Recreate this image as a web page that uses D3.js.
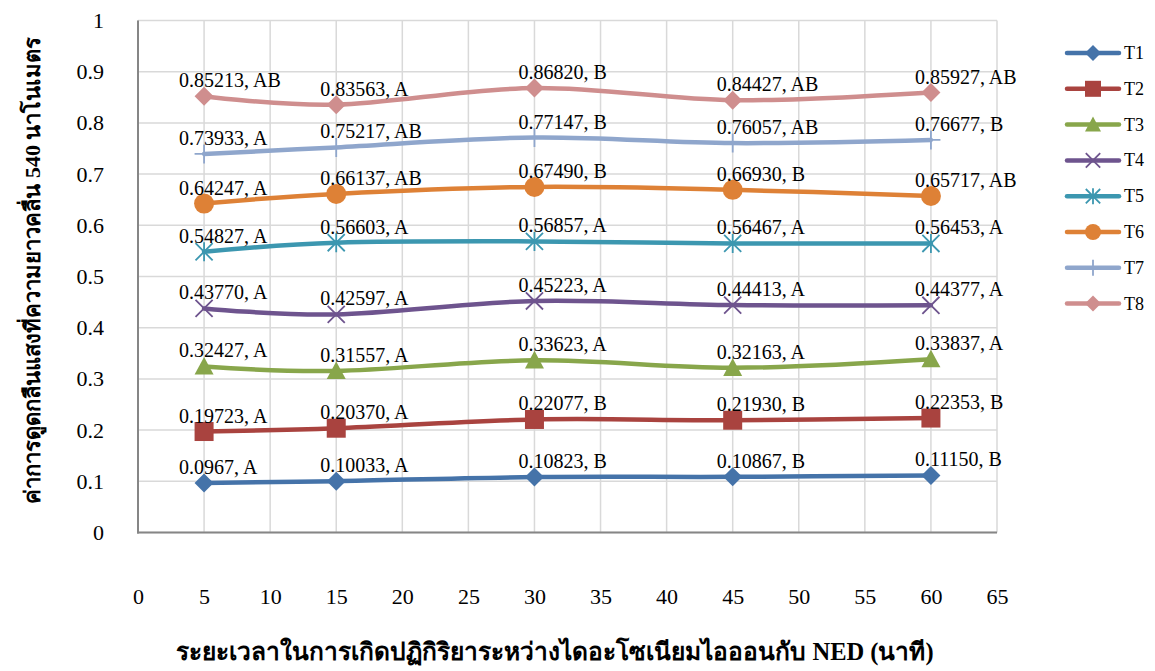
<!DOCTYPE html>
<html>
<head>
<meta charset="utf-8">
<script src="https://cdn.jsdelivr.net/npm/d3@7"></script>
<style>
  html, body { margin: 0; padding: 0; background: #fff; }
  svg { display: block; }
  text { font-family: "Liberation Serif", "Times New Roman", serif; fill: #000; }
</style>
</head>
<body>
<svg id="chart" width="1155" height="671"></svg>
<script>
// Reaction times (minutes) at which absorbance was measured
const times = [5, 15, 30, 45, 60];

// Mean absorbance at 540 nm per treatment, as reported (text keeps the printed digits)
const t1 = ["0.0967", "0.10033", "0.10823", "0.10867", "0.11150"];
const t2 = ["0.19723", "0.20370", "0.22077", "0.21930", "0.22353"];
const t3 = ["0.32427", "0.31557", "0.33623", "0.32163", "0.33837"];
const t4 = ["0.43770", "0.42597", "0.45223", "0.44413", "0.44377"];
const t5 = ["0.54827", "0.56603", "0.56857", "0.56467", "0.56453"];
const t6 = ["0.64247", "0.66137", "0.67490", "0.66930", "0.65717"];
const t7 = ["0.73933", "0.75217", "0.77147", "0.76057", "0.76677"];
const t8 = ["0.85213", "0.83563", "0.86820", "0.84427", "0.85927"];

// Statistical grouping letters for each mean
const g1 = ["A", "A", "B", "B", "B"];
const g2 = ["A", "A", "B", "B", "B"];
const g3 = ["A", "A", "A", "A", "A"];
const g4 = ["A", "A", "A", "A", "A"];
const g5 = ["A", "A", "A", "A", "A"];
const g6 = ["A", "AB", "B", "B", "AB"];
const g7 = ["A", "AB", "B", "AB", "B"];
const g8 = ["AB", "A", "B", "AB", "AB"];

const seriesNames = ["T1", "T2", "T3", "T4", "T5", "T6", "T7", "T8"];

// Axis ticks
const xTicks = [0, 5, 10, 15, 20, 25, 30, 35, 40, 45, 50, 55, 60, 65];
const yTicks = [0, 0.1, 0.2, 0.3, 0.4, 0.5, 0.6, 0.7, 0.8, 0.9, 1];

const xTitle = "ระยะเวลาในการเกิดปฏิกิริยาระหว่างไดอะโซเนียมไอออนกับ NED (นาที)";
const yTitle = "ค่าการดูดกลืนแสงที่ความยาวคลื่น 540 นาโนเมตร";

// Styling per series: colour and marker shape
const colors = ["#4573A9", "#A9433F", "#88A64B", "#6E548E", "#3C97B0", "#DE8136", "#8FA6CC", "#CF8E8E"];
const markers = ["diamond", "square", "triangle", "cross", "star", "circle", "plus", "diamond"];

const valueSets = [t1, t2, t3, t4, t5, t6, t7, t8];
const groupSets = [g1, g2, g3, g4, g5, g6, g7, g8];

const series = seriesNames.map((name, i) => ({
  name,
  color: colors[i],
  marker: markers[i],
  points: times.map((t, j) => ({ t, text: valueSets[i][j], v: Number(valueSets[i][j]), g: groupSets[i][j] }))
}));

const svg = d3.select("#chart");
const plot = { left: 138, right: 997, top: 20.5, bottom: 532.5 };

const x = d3.scaleLinear().domain([0, 65]).range([plot.left, plot.right]);
const y = d3.scaleLinear().domain([0, 1]).range([plot.bottom, plot.top]);

// Gridlines
const grid = svg.append("g").attr("stroke", "#d9d9d9").attr("stroke-width", 1.5);
grid.selectAll("line.v").data(xTicks).join("line")
  .attr("x1", d => x(d)).attr("x2", d => x(d))
  .attr("y1", plot.top).attr("y2", plot.bottom);
grid.selectAll("line.h").data(yTicks).join("line")
  .attr("x1", plot.left).attr("x2", plot.right)
  .attr("y1", d => y(d)).attr("y2", d => y(d));

// Axes
const xAxis = d3.axisBottom(x).tickValues(xTicks).tickSize(0).tickPadding(56).tickFormat(d3.format("d"));
const gx = svg.append("g").attr("transform", `translate(0,${plot.bottom})`).call(xAxis);
gx.select(".domain").remove();
gx.selectAll("text").style("font-family", '"Liberation Serif", serif').style("font-size", "22px").attr("fill", "#000");

const yAxis = d3.axisLeft(y).tickValues(yTicks).tickSize(0).tickPadding(34).tickFormat(d => String(+d.toFixed(1)));
const gy = svg.append("g").attr("transform", `translate(${plot.left},0)`).call(yAxis);
gy.select(".domain").remove();
gy.selectAll("text").style("font-family", '"Liberation Serif", serif').style("font-size", "22px").attr("fill", "#000");

svg.append("line").attr("x1", plot.left).attr("x2", plot.left).attr("y1", plot.top).attr("y2", plot.bottom + 1)
  .attr("stroke", "#868686").attr("stroke-width", 2);
svg.append("line").attr("x1", plot.left - 1).attr("x2", plot.right).attr("y1", plot.bottom).attr("y2", plot.bottom)
  .attr("stroke", "#868686").attr("stroke-width", 2);

// Marker drawing
function drawMarker(sel, type, color, s) {
  const h = s / 2;
  if (type === "diamond") {
    sel.append("path").attr("d", `M0,${-h}L${h},0L0,${h}L${-h},0Z`).attr("fill", color);
  } else if (type === "square") {
    sel.append("rect").attr("x", -h).attr("y", -h).attr("width", s).attr("height", s).attr("fill", color);
  } else if (type === "triangle") {
    sel.append("path").attr("d", `M0,${-h}L${h},${h * 0.85}L${-h},${h * 0.85}Z`).attr("fill", color);
  } else if (type === "circle") {
    sel.append("circle").attr("r", h).attr("fill", color);
  } else if (type === "cross") {
    const k = h * 0.9;
    sel.append("path").attr("d", `M${-k},${-k}L${k},${k}M${-k},${k}L${k},${-k}`)
      .attr("stroke", color).attr("stroke-width", 1.8).attr("fill", "none");
  } else if (type === "star") {
    const k = h * 0.9;
    sel.append("path").attr("d", `M${-k},${-k}L${k},${k}M${-k},${k}L${k},${-k}M0,${-h}L0,${h}`)
      .attr("stroke", color).attr("stroke-width", 1.8).attr("fill", "none");
  } else if (type === "plus") {
    sel.append("path").attr("d", `M0,${-h}L0,${h}M${-h},0L${h},0`)
      .attr("stroke", color).attr("stroke-width", 1.8).attr("fill", "none");
  }
}

// Smoothed series lines
const line = d3.line().x(d => x(d.t)).y(d => y(d.v)).curve(d3.curveCatmullRom.alpha(0));
const gLines = svg.append("g");
series.forEach(s => {
  gLines.append("path").datum(s.points).attr("d", line)
    .attr("fill", "none").attr("stroke", s.color).attr("stroke-width", 4.5)
    .attr("stroke-linejoin", "round").attr("stroke-linecap", "round");
});

// Markers
series.forEach(s => {
  s.points.forEach(p => {
    const g = svg.append("g").attr("transform", `translate(${x(p.t)},${y(p.v)})`);
    drawMarker(g, s.marker, s.color, s.marker === "circle" ? 20 : 19);
  });
});

// Value labels: mean and grouping letter
const gLabels = svg.append("g");
series.forEach(s => {
  gLabels.selectAll(null).data(s.points).join("text")
    .attr("x", d => x(d.t) - (d.t === 5 ? 25 : 16))
    .attr("y", d => y(d.v) - 9)
    .style("font-size", "20px")
    .text(d => `${d.text}, ${d.g}`);
});

// Legend
const legend = svg.append("g").attr("transform", "translate(1067,53)");
series.forEach((s, i) => {
  const row = legend.append("g").attr("transform", `translate(0,${i * 35.8})`);
  row.append("line").attr("x1", 0).attr("x2", 52).attr("y1", 0).attr("y2", 0)
    .attr("stroke", s.color).attr("stroke-width", 4.5).attr("stroke-linecap", "round");
  const m = row.append("g").attr("transform", "translate(26,0)");
  drawMarker(m, s.marker, s.color, 16);
  row.append("text").attr("x", 57).attr("y", 6).style("font-size", "18px").text(s.name);
});

// Axis titles
svg.append("text")
  .attr("x", 555).attr("y", 660)
  .attr("text-anchor", "middle")
  .style("font-size", "24.5px").style("font-weight", "bold")
  .text(xTitle);

svg.append("text")
  .attr("transform", "translate(40,270) rotate(-90)")
  .attr("text-anchor", "middle")
  .style("font-size", "22px").style("font-weight", "bold")
  .text(yTitle);
</script>
</body>
</html>
